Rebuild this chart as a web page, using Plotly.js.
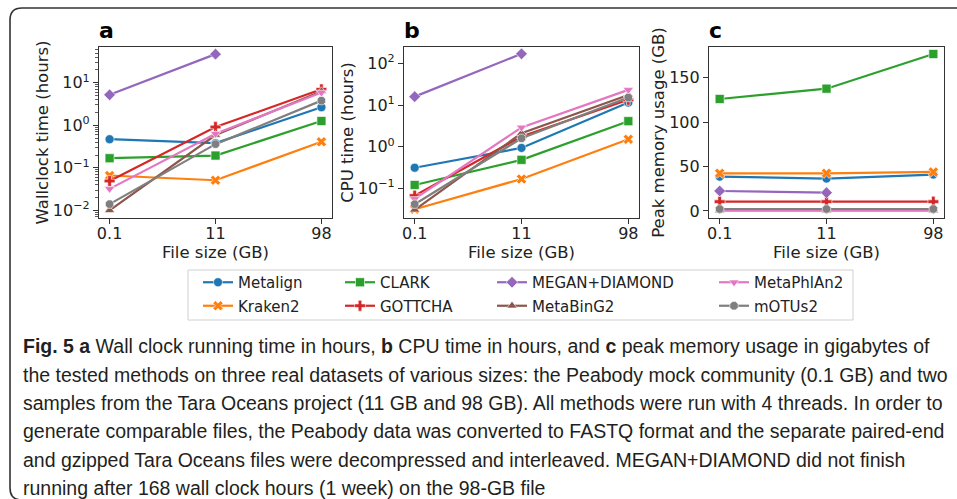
<!DOCTYPE html>
<html>
<head>
<meta charset="utf-8">
<script src="https://cdn.plot.ly/plotly-3.0.1.min.js"></script>
<style>html,body{margin:0;padding:0;background:#fff;}#chart{width:957px;height:499px;}</style>
</head>
<body>
<div id="chart"></div>
<script>
// ---- data ----
const fileSizes = ["0.1", "11", "98"];
const methods = ["Metalign", "Kraken2", "CLARK", "GOTTCHA", "MEGAN+DIAMOND", "MetaBinG2", "MetaPhlAn2", "mOTUs2"];

// wall clock time (hours)
const wall_Metalign   = [0.47, 0.38, 2.65];
const wall_Kraken2    = [0.066, 0.051, 0.41];
const wall_CLARK      = [0.168, 0.194, 1.26];
const wall_GOTTCHA    = [0.049, 0.91, 7.0];
const wall_MEGAN      = [5.2, 47, null];
const wall_MetaBinG2  = [0.010, 0.59, 6.3];
const wall_MetaPhlAn2 = [0.032, 0.63, 5.9];
const wall_mOTUs2     = [0.014, 0.36, 3.8];

// CPU time (hours)
const cpu_Metalign   = [0.31, 0.93, 11.5];
const cpu_Kraken2    = [0.031, 0.166, 1.5];
const cpu_CLARK      = [0.119, 0.48, 4.1];
const cpu_GOTTCHA    = [0.066, 1.75, 13.4];
const cpu_MEGAN      = [16, 172, null];
const cpu_MetaBinG2  = [0.030, 2.1, 17.6];
const cpu_MetaPhlAn2 = [0.055, 2.9, 23.3];
const cpu_mOTUs2     = [0.041, 1.59, 15.2];

// peak memory (GB)
const mem_Metalign   = [38.6, 36.5, 41];
const mem_Kraken2    = [42.4, 42.4, 43.9];
const mem_CLARK      = [126, 137.6, 176.6];
const mem_GOTTCHA    = [10.5, 10.5, 10.5];
const mem_MEGAN      = [22.5, 20.6, null];
const mem_MetaBinG2  = [0.6, 0.6, 0.6];
const mem_MetaPhlAn2 = [1.0, 1.0, 1.0];
const mem_mOTUs2     = [2.2, 2.2, 2.2];

const wallSeries = [wall_Metalign, wall_Kraken2, wall_CLARK, wall_GOTTCHA, wall_MEGAN, wall_MetaBinG2, wall_MetaPhlAn2, wall_mOTUs2];
const cpuSeries  = [cpu_Metalign, cpu_Kraken2, cpu_CLARK, cpu_GOTTCHA, cpu_MEGAN, cpu_MetaBinG2, cpu_MetaPhlAn2, cpu_mOTUs2];
const memSeries  = [mem_Metalign, mem_Kraken2, mem_CLARK, mem_GOTTCHA, mem_MEGAN, mem_MetaBinG2, mem_MetaPhlAn2, mem_mOTUs2];

// ---- style ----
const colors  = ["#1f77b4", "#ff7f0e", "#2ca02c", "#d62728", "#9467bd", "#8c564b", "#e377c2", "#7f7f7f"];
const symbols = ["circle", "x", "square", "cross", "diamond", "triangle-up", "triangle-down", "octagon"];
const legendOf = ["legend", "legend", "legend2", "legend2", "legend3", "legend3", "legend4", "legend4"];

const W = 957, H = 499;
const px = v => v / W;
const py = v => 1 - v / H;

const traces = [];
const panels = [
  {series: wallSeries, xa: "x", ya: "y"},
  {series: cpuSeries, xa: "x2", ya: "y2"},
  {series: memSeries, xa: "x3", ya: "y3"}
];
panels.forEach((p, pi) => {
  methods.forEach((m, i) => {
    traces.push({
      type: "scatter", mode: "lines+markers",
      x: fileSizes, y: p.series[i], name: m,
      xaxis: p.xa, yaxis: p.ya,
      legend: legendOf[i], legendgroup: m,
      showlegend: pi === 0,
      line: {color: colors[i], width: 2.2},
      marker: {symbol: symbols[i], size: 9, color: colors[i], line: {color: "#fff", width: 0.6}},
      connectgaps: false
    });
  });
});

const tickFont = {family: "DejaVu Sans", size: 16, color: "#222"};
const titleFont = {family: "DejaVu Sans", size: 16.5, color: "#222"};
function xAxis(d, anchor) {
  return {
    domain: [px(d[0]), px(d[1])], anchor: anchor, type: "category",
    range: [-0.1, 2.1], showgrid: false, zeroline: false,
    showline: true, mirror: true, linecolor: "#333", linewidth: 1.1,
    ticks: "outside", ticklen: 5, tickwidth: 1, tickcolor: "#333",
    ticklabelstandoff: -4,
    tickfont: tickFont, title: {text: "File size (GB)", font: titleFont, standoff: 4}
  };
}
const yDom = [py(218), py(47)];
function minorLogVals(lo, hi) {
  const v = [];
  for (let e = lo; e <= hi; e++) for (let k = 2; k <= 9; k++) v.push(k * Math.pow(10, e));
  return v;
}
const logBase = {
  type: "log", domain: yDom, showgrid: false, zeroline: false,
  showline: true, mirror: true, linecolor: "#333", linewidth: 1.1,
  ticks: "outside", ticklen: 5, tickwidth: 1, tickcolor: "#333",
  tickfont: tickFont
};

const legendFont = {family: "DejaVu Sans", size: 15, color: "#222"};
function legendAt(x) {
  return {x: px(x), y: py(266), xanchor: "left", yanchor: "top", bgcolor: "rgba(0,0,0,0)",
          font: legendFont, tracegroupgap: 1, traceorder: "grouped"};
}

const layout = {
  width: W, height: H,
  margin: {l: 0, r: 0, t: 0, b: 0},
  paper_bgcolor: "#fff", plot_bgcolor: "#fff",
  font: {family: "DejaVu Sans", color: "#222"},
  xaxis: xAxis([99, 332], "y"),
  xaxis2: xAxis([404, 639], "y2"),
  xaxis3: xAxis([709, 944], "y3"),
  yaxis: Object.assign({}, logBase, {
    anchor: "x", range: [-2.18, 1.84],
    tickmode: "array", tickvals: [0.01, 0.1, 1, 10],
    ticktext: ["10<sup>−2</sup>", "10<sup>−1</sup>", "10<sup>0</sup>", "10<sup>1</sup>"],
    minor: {ticks: "outside", ticklen: 3, tickwidth: 0.8, tickcolor: "#333", tickmode: "array", tickvals: minorLogVals(-3, 1), showgrid: false},
    title: {text: "Wallclock time (hours)", font: titleFont, standoff: 0}
  }),
  yaxis2: Object.assign({}, logBase, {
    anchor: "x2", range: [-1.72, 2.40],
    tickmode: "array", tickvals: [0.1, 1, 10, 100],
    ticktext: ["10<sup>−1</sup>", "10<sup>0</sup>", "10<sup>1</sup>", "10<sup>2</sup>"],
    title: {text: "CPU time (hours)", font: titleFont, standoff: 0}
  }),
  yaxis3: {
    anchor: "x3", domain: yDom, range: [-7.9, 184.5],
    showgrid: false, zeroline: false,
    showline: true, mirror: true, linecolor: "#333", linewidth: 1.1,
    ticks: "outside", ticklen: 5, tickwidth: 1, tickcolor: "#333",
    tickvals: [0, 50, 100, 150], tickfont: tickFont,
    title: {text: "Peak memory usage (GB)", font: titleFont, standoff: 0}
  },
  showlegend: true,
  legend: legendAt(198),
  legend2: legendAt(340),
  legend3: legendAt(492),
  legend4: legendAt(714),
  shapes: [
    // outer figure frame
    {type: "path", xref: "paper", yref: "paper",
     path: `M ${px(980)},${py(8)} L ${px(22)},${py(8)} Q ${px(10)},${py(8)} ${px(10)},${py(20)} L ${px(10)},${py(488)} Q ${px(10)},${py(500)} ${px(22)},${py(500)} L ${px(980)},${py(500)}`,
     line: {color: "#333", width: 1.6}},
    // legend frame
    {type: "rect", xref: "paper", yref: "paper", x0: px(188), x1: px(853), y0: py(270), y1: py(320),
     line: {color: "#d0d0d0", width: 1}, fillcolor: "rgba(255,255,255,0)", layer: "below"}
  ],
  annotations: []
};

// panel letters
[["a", 97], ["b", 402], ["c", 707]].forEach(([t, x]) => {
  layout.annotations.push({text: "<b>" + t + "</b>", xref: "paper", yref: "paper", x: px(x), y: py(45),
    xanchor: "left", yanchor: "bottom", showarrow: false,
    font: {family: "DejaVu Sans", size: 22, color: "#000"}});
});

// caption
const captionLines = [
  "<b>Fig. 5</b> <b>a</b> Wall clock running time in hours, <b>b</b> CPU time in hours, and <b>c</b> peak memory usage in gigabytes of",
  "the tested methods on three real datasets of various sizes: the Peabody mock community (0.1 GB) and two",
  "samples from the Tara Oceans project (11 GB and 98 GB). All methods were run with 4 threads. In order to",
  "generate comparable files, the Peabody data was converted to FASTQ format and the separate paired-end",
  "and gzipped Tara Oceans files were decompressed and interleaved. MEGAN+DIAMOND did not finish",
  "running after 168 wall clock hours (1 week) on the 98-GB file"
];
const capY = [346, 374.5, 403, 431, 459.5, 488];
captionLines.forEach((t, i) => {
  layout.annotations.push({text: t, xref: "paper", yref: "paper", x: px(21), y: py(capY[i]),
    xanchor: "left", yanchor: "middle", showarrow: false,
    font: {family: "Liberation Sans", size: 19.5, color: "#231f20"}});
});

Plotly.newPlot("chart", traces, layout, {displayModeBar: false, staticPlot: true});
</script>
</body>
</html>
